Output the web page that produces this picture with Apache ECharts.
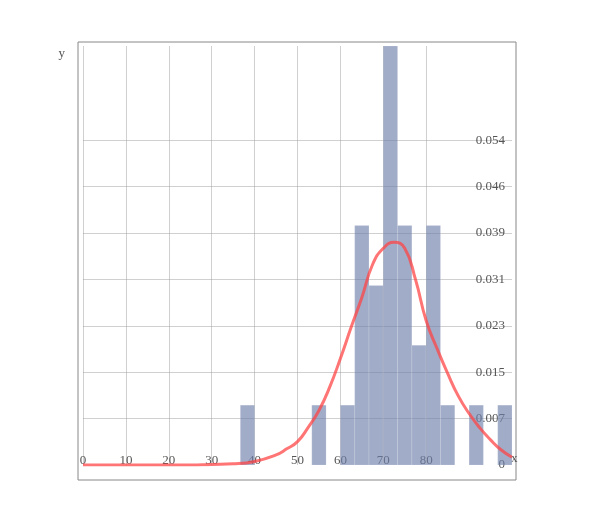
<!DOCTYPE html><html><head><meta charset="utf-8"><script src="https://cdn.jsdelivr.net/npm/echarts@6/dist/echarts.min.js"></script></head><body style="margin:0"><div id="c" style="width:600px;height:524px"></div><script>
const binStarts=[36.67,53.33,60,63.33,66.67,70,73.33,76.67,80,83.33,90,96.67];
const binWidth=3.333;
const binDensity=[0.01,0.01,0.01,0.04,0.03,0.07,0.04,0.02,0.04,0.01,0.01,0.01];
const curveX=[0,5,10,15,20,25,30,35,40,45,47.5,50,52.5,55,57.5,60,62.5,65,67.5,70,72.5,75,77.5,80,82.5,85,87.5,90,92.5,95,97.5,100];
const curveY=[0,0,0,0,0,0,0.0001,0.0002,0.0006,0.0017,0.0027,0.0039,0.0063,0.0091,0.013,0.0178,0.023,0.028,0.0335,0.0362,0.0372,0.0362,0.031,0.0241,0.0195,0.0153,0.0115,0.0086,0.0062,0.0042,0.0025,0.0013];
const yTickLabels=['0','0.007','0.015','0.023','0.031','0.039','0.046','0.054','',''];
const bars=binStarts.map((s,i)=>[s,s+binWidth,binDensity[i]]);
const font='Liberation Serif';
const ch=echarts.init(document.getElementById('c'));
const gridCol='rgba(150,150,150,0.45)';
ch.setOption({
 animation:false,
 grid:{left:83,right:88,top:46,bottom:59},
 graphic:[{type:'rect',shape:{x:78,y:42,width:438,height:438},style:{fill:'none',stroke:'#888',lineWidth:1}}],
 xAxis:{type:'value',min:0,max:100,interval:10,name:'x',nameGap:-8,nameTextStyle:{fontFamily:font,fontSize:13,color:'#555',verticalAlign:'bottom'},
  axisLine:{show:false},axisTick:{show:false},
  axisLabel:{inside:true,margin:-2,fontFamily:font,fontSize:13,color:'#555',verticalAlign:'bottom',formatter:v=>v<=80?String(v):''},
  splitLine:{show:true,lineStyle:{color:[gridCol,gridCol,gridCol,gridCol,gridCol,gridCol,gridCol,gridCol,gridCol,'transparent','transparent']}}},
 yAxis:{type:'value',position:'right',min:0,max:0.07,interval:0.00775,name:'y',nameLocation:'end',nameGap:-14,nameTextStyle:{fontFamily:font,fontSize:13,color:'#555',align:'right',padding:[0,18,0,0]},
  axisLine:{show:false},axisTick:{show:false},
  axisLabel:{inside:true,margin:7,fontFamily:font,fontSize:13,color:'#555',formatter:(v,i)=>yTickLabels[i]||''},
  splitLine:{show:true,lineStyle:{color:['transparent',gridCol,gridCol,gridCol,gridCol,gridCol,gridCol,gridCol,'transparent','transparent']}}},
 series:[
  {type:'custom',data:bars,encode:{x:[0,1],y:2},z:2,renderItem:(p,api)=>{const a=api.coord([api.value(0),api.value(2)]),b=api.coord([api.value(1),0]);return{type:'rect',shape:{x:a[0],y:a[1],width:b[0]-a[0],height:b[1]-a[1]},style:{fill:'rgba(110,128,170,0.65)',stroke:'rgba(255,255,255,0.25)',lineWidth:0.5}};}},
  {type:'line',data:curveX.map((x,i)=>[x,curveY[i]]),smooth:true,showSymbol:false,z:3,lineStyle:{color:'rgba(255,70,70,0.75)',width:3}}
 ]
});
</script></body></html>
